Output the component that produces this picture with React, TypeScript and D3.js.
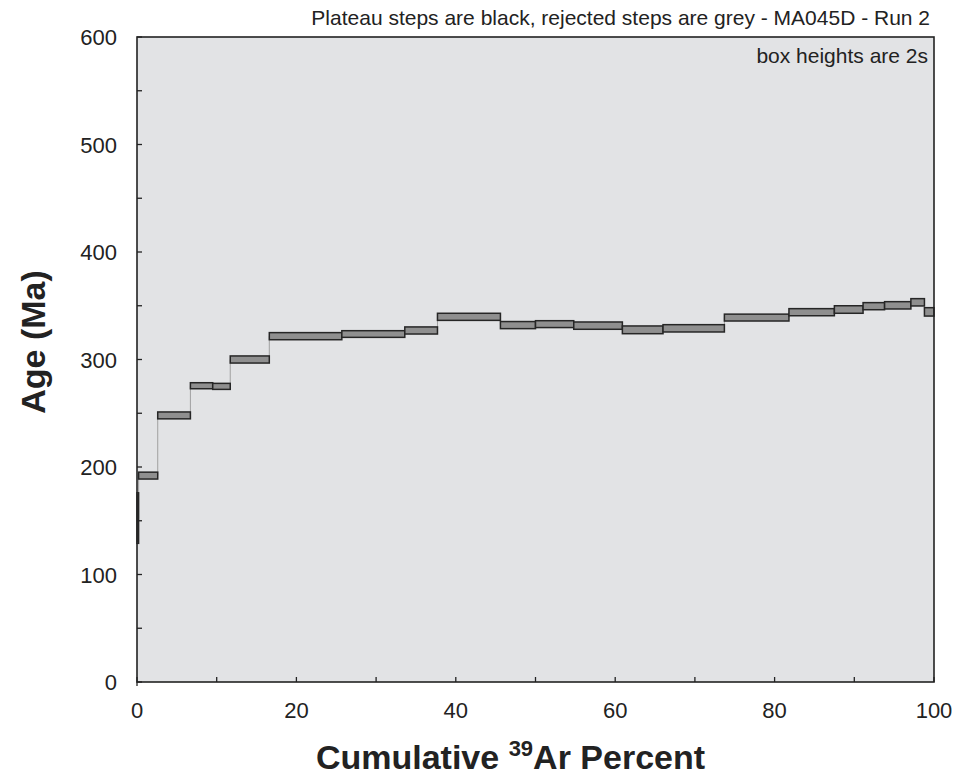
import React from 'react';
import * as d3 from 'd3';

// step boundaries (cumulative 39Ar %), ages and 2s half-heights (Ma)
const stepStart = [0, 0.2, 2.6, 6.7, 9.5, 11.7, 16.6, 25.7, 33.6, 37.7, 45.6, 50.0, 54.8, 60.9, 66.0, 73.7, 81.8, 87.5, 91.1, 93.8, 97.1, 98.8];
const stepEnd = [0.2, 2.6, 6.7, 9.5, 11.7, 16.6, 25.7, 33.6, 37.7, 45.6, 50.0, 54.8, 60.9, 66.0, 73.7, 81.8, 87.5, 91.1, 93.8, 97.1, 98.8, 100];
const ages = [152.5, 192, 248, 275.6, 275, 300, 321.7, 323.7, 327, 339.7, 332, 332.9, 331.5, 327.6, 329, 339, 344, 346.5, 349.6, 350.4, 353.2, 344.3];
const errors = [23.5, 3.2, 3.2, 2.8, 2.8, 3.3, 3.3, 3.1, 3.3, 3.3, 3.3, 3.2, 3.4, 3.6, 3.4, 3.2, 3.3, 3.5, 3.3, 3.4, 3.4, 3.9];

const xTicks = [0, 20, 40, 60, 80, 100];
const yTicks = [0, 100, 200, 300, 400, 500, 600];
const xMinor = d3.range(0, 101, 10);
const yMinor = d3.range(0, 601, 50);

const title = 'Plateau steps are black, rejected steps are grey - MA045D - Run 2';
const note = 'box heights are 2s';

const font = '"Liberation Sans", Arial, sans-serif';

export default function App() {
  const left = 137;
  const right = 934;
  const top = 37;
  const bottom = 682;

  const x = d3.scaleLinear().domain([0, 100]).range([left, right]);
  const y = d3.scaleLinear().domain([0, 600]).range([bottom, top]);

  const steps = ages.map((a, i) => ({ x0: stepStart[i], x1: stepEnd[i], age: a, err: errors[i] }));

  return (
    <svg width={956} height={775} style={{ position: 'absolute', left: 0, top: 0 }}>
      <rect x={0} y={0} width={956} height={775} fill="#fff" />
      <rect x={left} y={top} width={right - left} height={bottom - top} fill="#e2e3e5" />

      {/* connectors between steps */}
      {steps.slice(1).map((s, i) => (
        <line
          key={'c' + i}
          x1={x(s.x0)}
          x2={x(s.x0)}
          y1={y(steps[i].age)}
          y2={y(s.age)}
          stroke="#a0a0a0"
          strokeWidth={1}
        />
      ))}

      {steps.map((s, i) => (
        <rect
          key={'s' + i}
          x={x(s.x0)}
          y={y(s.age + s.err)}
          width={Math.max(x(s.x1) - x(s.x0), 0.5)}
          height={y(s.age - s.err) - y(s.age + s.err)}
          fill="#8f8f8f"
          stroke="#262626"
          strokeWidth={1.5}
        />
      ))}

      {/* ticks */}
      {xMinor.map(t => (
        <line key={'xt' + t} x1={x(t)} x2={x(t)} y1={bottom} y2={bottom - 5} stroke="#222" strokeWidth={1.3} />
      ))}
      {yMinor.map(t => (
        <line key={'yt' + t} x1={left} x2={left + 5} y1={y(t)} y2={y(t)} stroke="#222" strokeWidth={1.3} />
      ))}
      <line x1={left} x2={left} y1={bottom} y2={bottom + 4} stroke="#222" strokeWidth={1.3} />

      <rect x={left} y={top} width={right - left} height={bottom - top} fill="none" stroke="#222" strokeWidth={1.6} />

      {xTicks.map(t => (
        <text key={'xl' + t} x={x(t)} y={bottom + 36} textAnchor="middle" fontFamily={font} fontSize={22} fill="#222">
          {t}
        </text>
      ))}
      {yTicks.map(t => (
        <text key={'yl' + t} x={left - 20} y={y(t) + 8} textAnchor="end" fontFamily={font} fontSize={22} fill="#222">
          {t}
        </text>
      ))}

      <text x={930} y={25} textAnchor="end" fontFamily={font} fontSize={21} fill="#222">
        {title}
      </text>
      <text x={928} y={63} textAnchor="end" fontFamily={font} fontSize={21} fill="#222">
        {note}
      </text>

      <text
        transform="translate(45,342) rotate(-90)"
        textAnchor="middle"
        fontFamily={font}
        fontSize={34}
        fontWeight="bold"
        fill="#222"
      >
        Age (Ma)
      </text>
      <text x={(left + right) / 2 - 25} y={769} textAnchor="middle" fontFamily={font} fontSize={34} fontWeight="bold" fill="#222">
        Cumulative <tspan fontSize={22} dy={-13}>39</tspan>
        <tspan dy={13}>Ar Percent</tspan>
      </text>
    </svg>
  );
}
